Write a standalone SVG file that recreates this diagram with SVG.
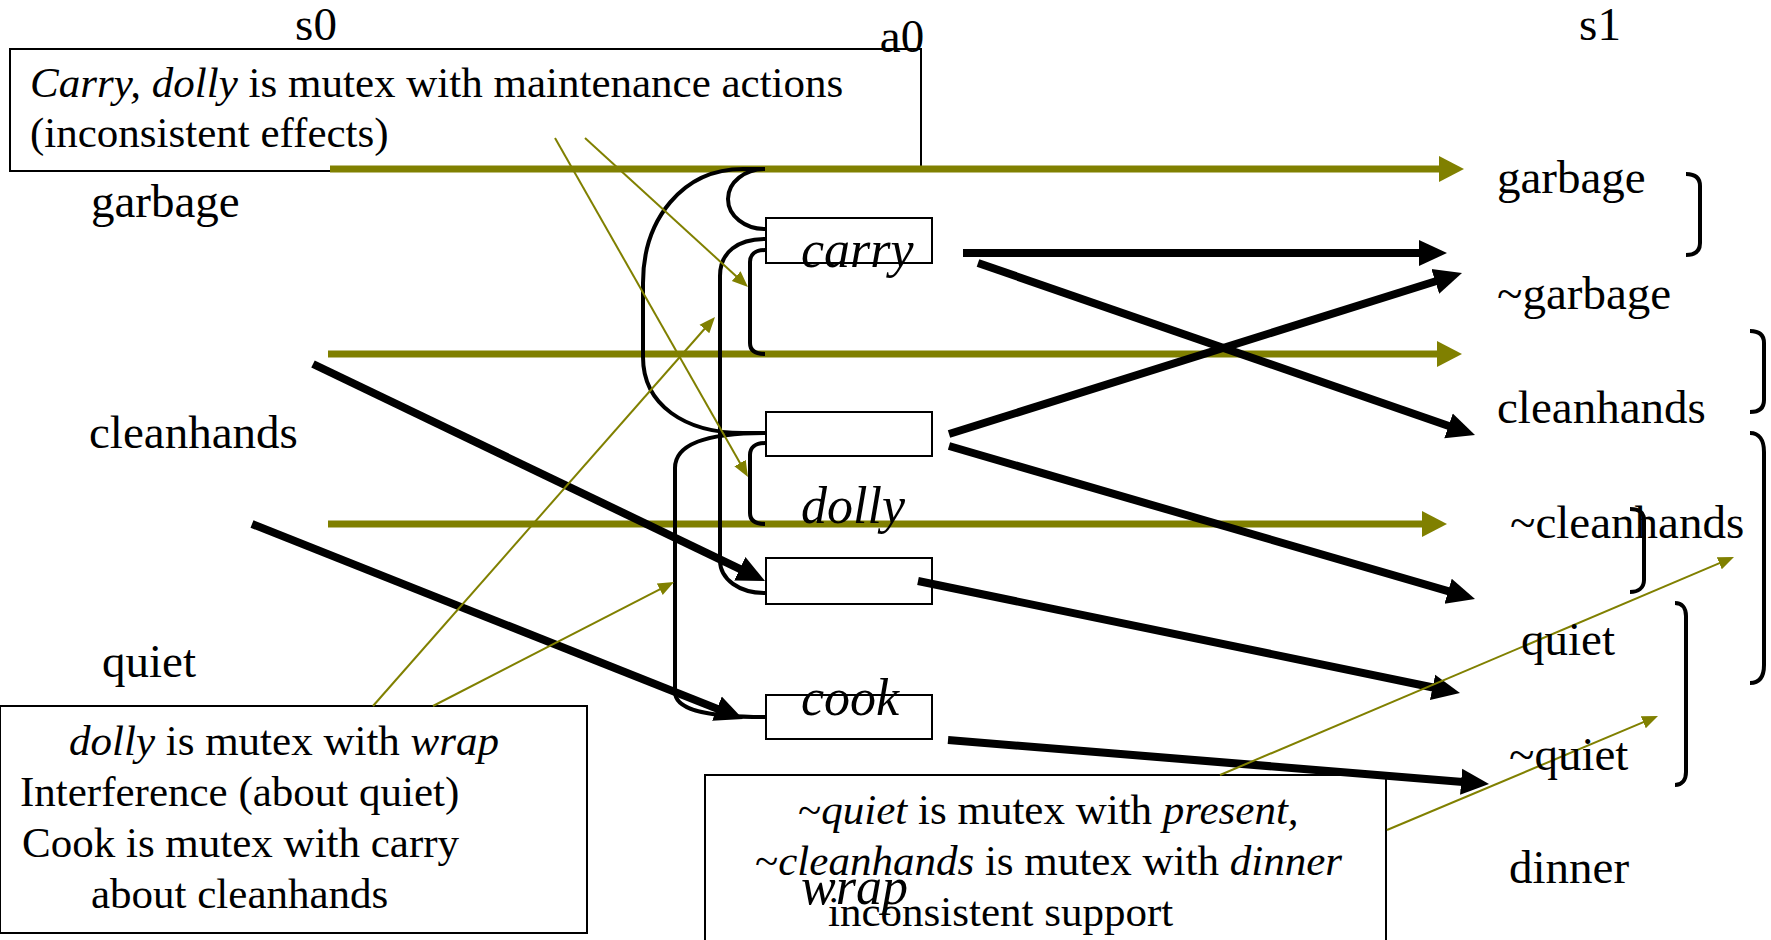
<svg xmlns="http://www.w3.org/2000/svg" width="1771" height="940" viewBox="0 0 1771 940">
<style>
text{font-family:"Liberation Serif","Times New Roman",serif;fill:#000}
.lbl{font-size:47px}
.act{font-size:52px;font-style:italic}
.ann{font-size:43px}
.it{font-style:italic}
.box{fill:#fff;stroke:#000;stroke-width:2}
.abox{fill:none;stroke:#000;stroke-width:2}
.thick{stroke:#000;stroke-width:8;fill:none;marker-end:url(#hb)}
.olive{stroke:#808000;stroke-width:7;fill:none;marker-end:url(#ho)}
.othin{stroke:#808000;stroke-width:2;fill:none;marker-end:url(#hs)}
.mx{stroke:#000;stroke-width:4;fill:none}
</style>
<defs>
<marker id="hb" markerUnits="userSpaceOnUse" markerWidth="30" markerHeight="28" viewBox="0 -14 30 28" refX="8" refY="0" orient="auto"><path d="M0,-13 L28,0 L0,13 z" fill="#000"/></marker>
<marker id="ho" markerUnits="userSpaceOnUse" markerWidth="27" markerHeight="28" viewBox="0 -14 27 28" refX="7" refY="0" orient="auto"><path d="M0,-13 L25,0 L0,13 z" fill="#808000"/></marker>
<marker id="hs" markerUnits="userSpaceOnUse" markerWidth="18" markerHeight="16" viewBox="0 -8 18 16" refX="6" refY="0" orient="auto"><path d="M0,-6.5 L16,0 L0,6.5 z" fill="#808000"/></marker>
</defs>
<rect width="1771" height="940" fill="#fff"/>

<g id="note-inconsistent-effects">
<rect class="box" x="10" y="49" width="911" height="122"/>
<text class="ann" x="30" y="97"><tspan class="it">Carry, dolly</tspan> is mutex with maintenance actions</text>
<text class="ann" x="30" y="147">(inconsistent effects)</text>
</g>
<g id="note-interference">
<rect class="box" x="0" y="706" width="587" height="227"/>
<text class="ann" x="69" y="755"><tspan class="it">dolly</tspan> is mutex with <tspan class="it">wrap</tspan></text>
<text class="ann" x="20" y="806">Interference (about quiet)</text>
<text class="ann" x="22" y="857">Cook is mutex with carry</text>
<text class="ann" x="91" y="908">about cleanhands</text>
</g>
<g id="note-inconsistent-support">
<rect class="box" x="705" y="775" width="681" height="180"/>
<text class="ann" x="798" y="824">~<tspan class="it">quiet</tspan> is mutex with <tspan class="it">present,</tspan></text>
<text class="ann" x="755" y="875">~<tspan class="it">cleanhands</tspan> is mutex with <tspan class="it">dinner</tspan></text>
<text class="ann" x="828" y="926">inconsistent support</text>
</g>

<g id="connectors">
<line class="olive" x1="330" y1="169" x2="1446" y2="169"/>
<line class="olive" x1="328" y1="354" x2="1444" y2="354"/>
<line class="olive" x1="328" y1="524" x2="1429" y2="524"/>

<path class="mx" d="M765,169 C745,169 728,182 728,199 C728,216 745,229 765,229"/>
<path class="mx" d="M765,169 L743,169 C682,169 643,220 643,283 L643,357 C643,405 685,433 743,433 L765,433"/>
<path class="mx" d="M765,239 C738,239 720,252 720,276 L720,560 C720,580 740,593 765,593"/>
<path class="mx" d="M765,250 C755,250 750,255 750,262 L750,343 C750,350 755,354 765,354"/>
<path class="mx" d="M765,443 C755,443 750,448 750,455 L750,513 C750,520 755,524 765,524"/>
<path class="mx" d="M765,433 C718,433 675,440 675,468 L675,692 C675,708 700,717 765,717"/>

<line class="thick" x1="963" y1="253" x2="1427" y2="253"/>
<line class="thick" x1="978" y1="263" x2="1456.1" y2="428.5"/>
<line class="thick" x1="949" y1="434" x2="1442.9" y2="279"/>
<line class="thick" x1="949" y1="446" x2="1455.8" y2="593.4"/>
<line class="thick" x1="918" y1="581" x2="1440.4" y2="689"/>
<line class="thick" x1="948" y1="740" x2="1469.1" y2="782.4"/>
<line class="thick" x1="313" y1="364" x2="747" y2="572.3"/>
<line class="thick" x1="252" y1="524" x2="724.4" y2="711.6"/>

<line class="othin" x1="555" y1="138" x2="743" y2="468.3"/>
<line class="othin" x1="585" y1="138" x2="740.6" y2="280.2"/>
<line class="othin" x1="373" y1="706" x2="708.4" y2="324.5"/>
<line class="othin" x1="433" y1="706" x2="665.1" y2="586.6"/>
<line class="othin" x1="1220" y1="775" x2="1724.8" y2="560.9"/>
<line class="othin" x1="1387" y1="830" x2="1648.8" y2="719.9"/>

<path class="mx" d="M1686,174 C1695,174 1700,178 1700,186 L1700,243 C1700,251 1695,255 1686,255"/>
<path class="mx" d="M1750,331 C1759,331 1764,335 1764,343 L1764,400 C1764,408 1759,412 1750,412"/>
<path class="mx" d="M1750,433 C1759,433 1764,440 1764,452 L1764,665 C1764,677 1759,683 1750,683"/>
<path class="mx" d="M1630,509 C1638,509 1644,512 1644,520 L1644,580 C1644,588 1638,592 1630,592"/>
<path class="mx" d="M1675,603 C1682,603 1686,608 1686,616 L1686,772 C1686,780 1682,785 1675,785"/>
</g>

<g id="header-s0"><text class="lbl" x="316" y="40" text-anchor="middle">s0</text></g>
<g id="header-a0"><text class="lbl" x="902" y="52" text-anchor="middle">a0</text></g>
<g id="header-s1"><text class="lbl" x="1600" y="40" text-anchor="middle">s1</text></g>

<g id="s0-garbage"><text class="lbl" x="91" y="217">garbage</text></g>
<g id="s0-cleanhands"><text class="lbl" x="89" y="448">cleanhands</text></g>
<g id="s0-quiet"><text class="lbl" x="102" y="677">quiet</text></g>

<g id="a0-carry"><rect class="abox" x="766" y="218" width="166" height="45"/><text class="act" x="801" y="267">carry</text></g>
<g id="a0-noop"><rect class="abox" x="766" y="412" width="166" height="44"/></g>
<g id="a0-dolly"><rect class="abox" x="766" y="558" width="166" height="46"/><text class="act" x="801" y="523">dolly</text></g>
<g id="a0-cook"><rect class="abox" x="766" y="695" width="166" height="44"/><text class="act" x="801" y="715">cook</text></g>
<g id="a0-wrap"><text class="act" x="801" y="904">wrap</text></g>

<g id="s1-garbage"><text class="lbl" x="1497" y="193">garbage</text></g>
<g id="s1-not-garbage"><text class="lbl" x="1497" y="309">~garbage</text></g>
<g id="s1-cleanhands"><text class="lbl" x="1497" y="423">cleanhands</text></g>
<g id="s1-not-cleanhands"><text class="lbl" x="1510" y="538">~cleanhands</text></g>
<g id="s1-quiet"><text class="lbl" x="1521" y="655">quiet</text></g>
<g id="s1-not-quiet"><text class="lbl" x="1509" y="770">~quiet</text></g>
<g id="s1-dinner"><text class="lbl" x="1509" y="883">dinner</text></g>
</svg>
